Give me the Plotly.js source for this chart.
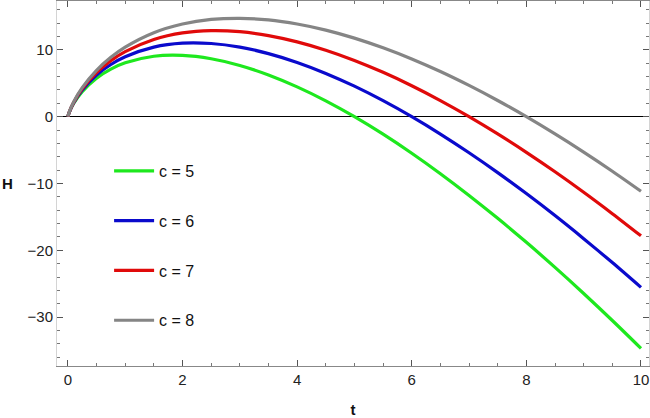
<!DOCTYPE html>
<html>
<head>
<meta charset="utf-8">
<script src="https://cdn.plot.ly/plotly-3.0.1.min.js"></script>
<style>
  html, body { margin: 0; padding: 0; background: #fff; }
  #chart { width: 650px; height: 418px; }
</style>
</head>
<body>
<div id="chart"></div>
<script>
// values
const tVals = [0, 0.02, 0.1, 0.25, 0.5, 0.75, 1, 1.5, 2, 2.5, 3, 3.5, 4, 4.5, 5, 5.5, 6, 6.5, 7, 7.5, 8, 8.5, 9, 9.5, 10];
const hC5 = [0, 0.55, 1.96, 3.74, 5.76, 7.11, 8.05, 9.03, 9.16, 8.66, 7.66, 6.24, 4.46, 2.37, 0, -2.62, -5.47, -8.53, -11.78, -15.21, -18.80, -22.55, -26.45, -30.49, -34.66];
const hC6 = [0, 0.57, 2.05, 3.97, 6.21, 7.80, 8.96, 10.40, 10.99, 10.94, 10.40, 9.43, 8.11, 6.47, 4.56, 2.39, 0, -2.60, -5.40, -8.37, -11.51, -14.80, -18.25, -21.83, -25.54];
const hC7 = [0, 0.59, 2.12, 4.17, 6.60, 8.38, 9.73, 11.55, 12.53, 12.87, 12.71, 12.13, 11.19, 9.94, 8.41, 6.63, 4.63, 2.41, 0, -2.59, -5.34, -8.25, -11.31, -14.51, -17.83];
const hC8 = [0, 0.60, 2.19, 4.33, 6.93, 8.88, 10.40, 12.56, 13.86, 14.54, 14.71, 14.47, 13.86, 12.95, 11.75, 10.30, 8.63, 6.75, 4.67, 2.42, 0, -2.58, -5.30, -8.16, -11.16];

const seriesNames = ['c = 5', 'c = 6', 'c = 7', 'c = 8'];
const seriesColors = ['#1ee81e', '#0a0acc', '#e00a0a', '#858585'];
const seriesVals = [hC5, hC6, hC7, hC8];

const traces = seriesVals.map((ys, i) => ({
  x: tVals,
  y: ys,
  name: seriesNames[i],
  legendgroup: 'g' + i,
  type: 'scatter',
  mode: 'lines',
  line: { color: seriesColors[i], width: 3.2, shape: 'spline', smoothing: 0.8 }
}));

const axisFont = { family: 'Liberation Sans, Arial, sans-serif', size: 15, color: '#222' };

const layout = {
  width: 650,
  height: 418,
  margin: { l: 57, r: 1, t: 1, b: 52 },
  paper_bgcolor: '#fff',
  plot_bgcolor: '#fff',
  showlegend: true,
  legend: {
    x: 0.088, y: 0.581, xanchor: 'left', yanchor: 'top',
    bgcolor: 'rgba(0,0,0,0)',
    font: { family: 'Liberation Sans, Arial, sans-serif', size: 16, color: '#111' },
    tracegroupgap: 26,
    itemwidth: 40
  },
  xaxis: {
    range: [-0.19, 10.14],
    dtick: 2, tick0: 0,
    ticks: 'inside', ticklen: 6, tickcolor: '#555', tickwidth: 1,
    minor: { dtick: 0.5, ticks: 'inside', ticklen: 3, tickcolor: '#777' },
    showline: true, linecolor: '#888', linewidth: 1, mirror: 'ticks',
    showgrid: false, zeroline: false,
    tickfont: axisFont,
    title: { text: '<b>t</b>', font: { family: 'Liberation Sans, Arial, sans-serif', size: 15, color: '#111' }, standoff: 18 }
  },
  yaxis: {
    range: [-37.3, 17.3],
    dtick: 10, tick0: 0,
    ticks: 'inside', ticklen: 6, tickcolor: '#555', tickwidth: 1,
    minor: { dtick: 2, ticks: 'inside', ticklen: 3, tickcolor: '#777' },
    showline: true, linecolor: '#d4d4d4', linewidth: 1, mirror: 'ticks',
    showgrid: false,
    zeroline: true, zerolinecolor: '#000', zerolinewidth: 1,
    tickfont: axisFont
  },
  annotations: [{
    text: '<b>H</b>', xref: 'paper', yref: 'paper',
    x: -0.084, y: 0.5, xanchor: 'center', yanchor: 'middle', showarrow: false,
    font: { family: 'Liberation Sans, Arial, sans-serif', size: 15, color: '#111' }
  }]
};

Plotly.newPlot('chart', traces, layout, { displayModeBar: false, staticPlot: true });
</script>
</body>
</html>
